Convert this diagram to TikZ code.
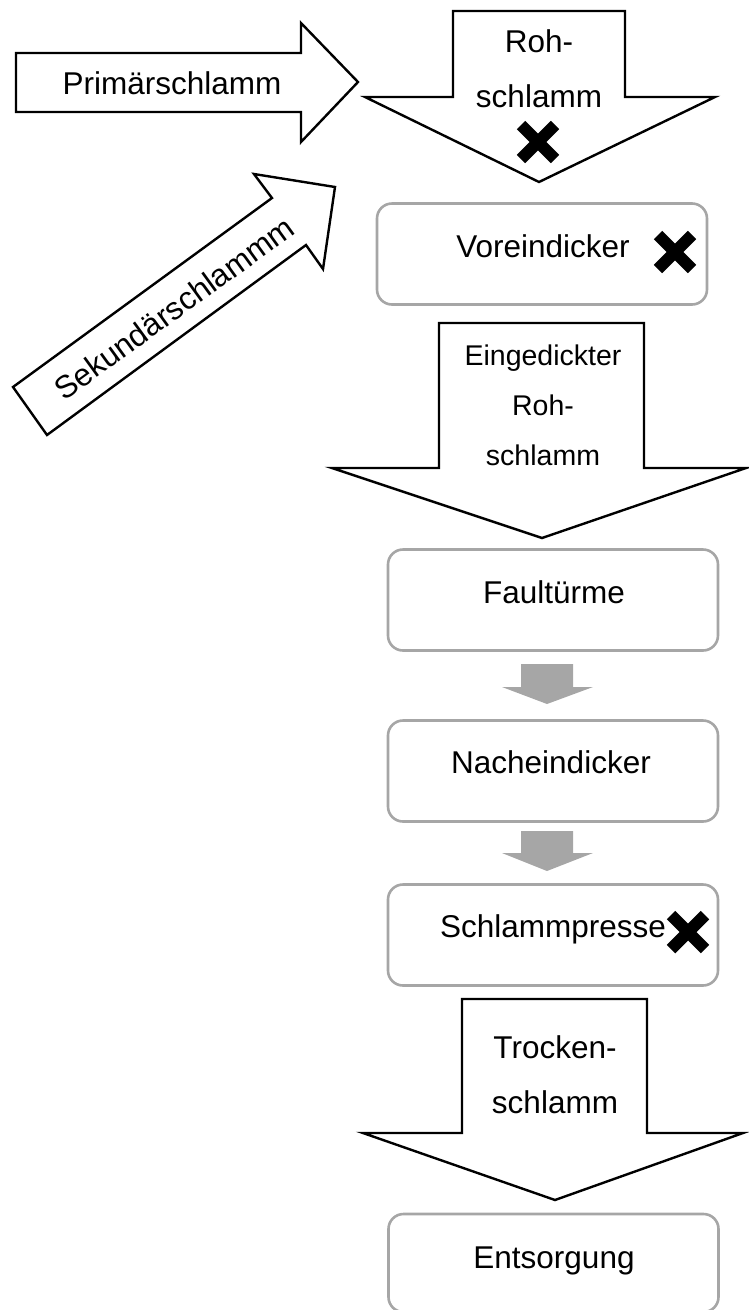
\documentclass[tikz,border=0pt]{standalone}
\usepackage{fontspec}
\setmainfont{Liberation Sans}
\definecolor{boxgray}{RGB}{166,166,166}
\definecolor{arrowgray}{RGB}{166,166,166}
\begin{document}
\begin{tikzpicture}[x=1pt,y=-1pt,
  blk/.style={draw=black,line width=2.4pt,fill=white,line join=miter},
  box/.style={draw=boxgray,line width=2.6pt,rounded corners=15pt,fill=white,
    minimum width=330pt,minimum height=101pt,inner sep=0pt},
  garrow/.style={fill=arrowgray,draw=none},
  txt/.style={font=\fontsize{31.5}{38}\selectfont,inner sep=0pt,anchor=base},
  stxt/.style={font=\fontsize{28.5}{34}\selectfont,inner sep=0pt,anchor=base},
  xmk/.style={line width=12pt,line cap=butt,draw=black}]
\useasboundingbox (0,0) rectangle (748,1310);

% Primaerschlamm arrow
\draw[blk] (16,53) -- (301,53) -- (301,23) -- (358,82) -- (301,142) -- (301,112) -- (16,112) -- cycle;
\node[txt] (prim) at (172,94) {Primärschlamm};

% Rohschlamm arrow
\draw[blk] (453,11) -- (625,11) -- (625,97) -- (715,97) -- (539,182) -- (365,97) -- (453,97) -- cycle;
\node[txt] (roh1) at (539,52) {Roh-};
\node[txt] (roh2) at (539,107) {schlamm};
\draw[xmk] (538,142) +(-17,-17) -- +(17,17) +(-17,17) -- +(17,-17);

% Sekundaerschlamm arrow
\draw[blk] (13,387) -- (272,198) -- (254,174) -- (335,187) -- (323,269) -- (306,245) -- (47,435) -- cycle;
\node[font=\fontsize{31.5}{38}\selectfont,inner sep=0pt,rotate=36] (sek) at (174,308) {Sekundärschlammm};

% Voreindicker
\node[box] (vor) at (542,254) {};
\node[txt] (vorT) at (543,257) {Voreindicker};
\draw[xmk] (675,252) +(-17,-17) -- +(17,17) +(-17,17) -- +(17,-17);

% Eingedickter Rohschlamm arrow
\draw[blk] (439,323) -- (644,323) -- (644,468) -- (746,468) -- (542,538) -- (332,468) -- (439,468) -- cycle;
\node[stxt] (ein1) at (543,365) {Eingedickter};
\node[stxt] (ein2) at (543,415) {Roh-};
\node[stxt] (ein3) at (543,465) {schlamm};

% Faultuerme
\node[box] (faul) at (553,600) {};
\node[txt] (faulT) at (554,603) {Faultürme};

\fill[garrow] (521,664) -- (573,664) -- (573,687) -- (593,687) -- (547,704) -- (502,687) -- (521,687) -- cycle;

% Nacheindicker
\node[box] (nach) at (553,771) {};
\node[txt] (nachT) at (551,773) {Nacheindicker};

\fill[garrow] (521,831) -- (573,831) -- (573,853) -- (593,853) -- (547,871) -- (502,853) -- (521,853) -- cycle;

% Schlammpresse
\node[box] (presse) at (553,935) {};
\node[txt] (presseT) at (553,937) {Schlammpresse};
\draw[xmk] (688,932) +(-17,-17) -- +(17,17) +(-17,17) -- +(17,-17);

% Trockenschlamm arrow
\draw[blk] (462,999) -- (647,999) -- (647,1133) -- (743,1133) -- (555,1200) -- (363,1133) -- (462,1133) -- cycle;
\node[txt] (tro1) at (555,1058) {Trocken-};
\node[txt] (tro2) at (555,1113) {schlamm};

% Entsorgung
\node[box,minimum height=98pt] (ents) at (553.5,1263) {};
\node[txt] (entsT) at (554,1268) {Entsorgung};
\end{tikzpicture}
\end{document}
